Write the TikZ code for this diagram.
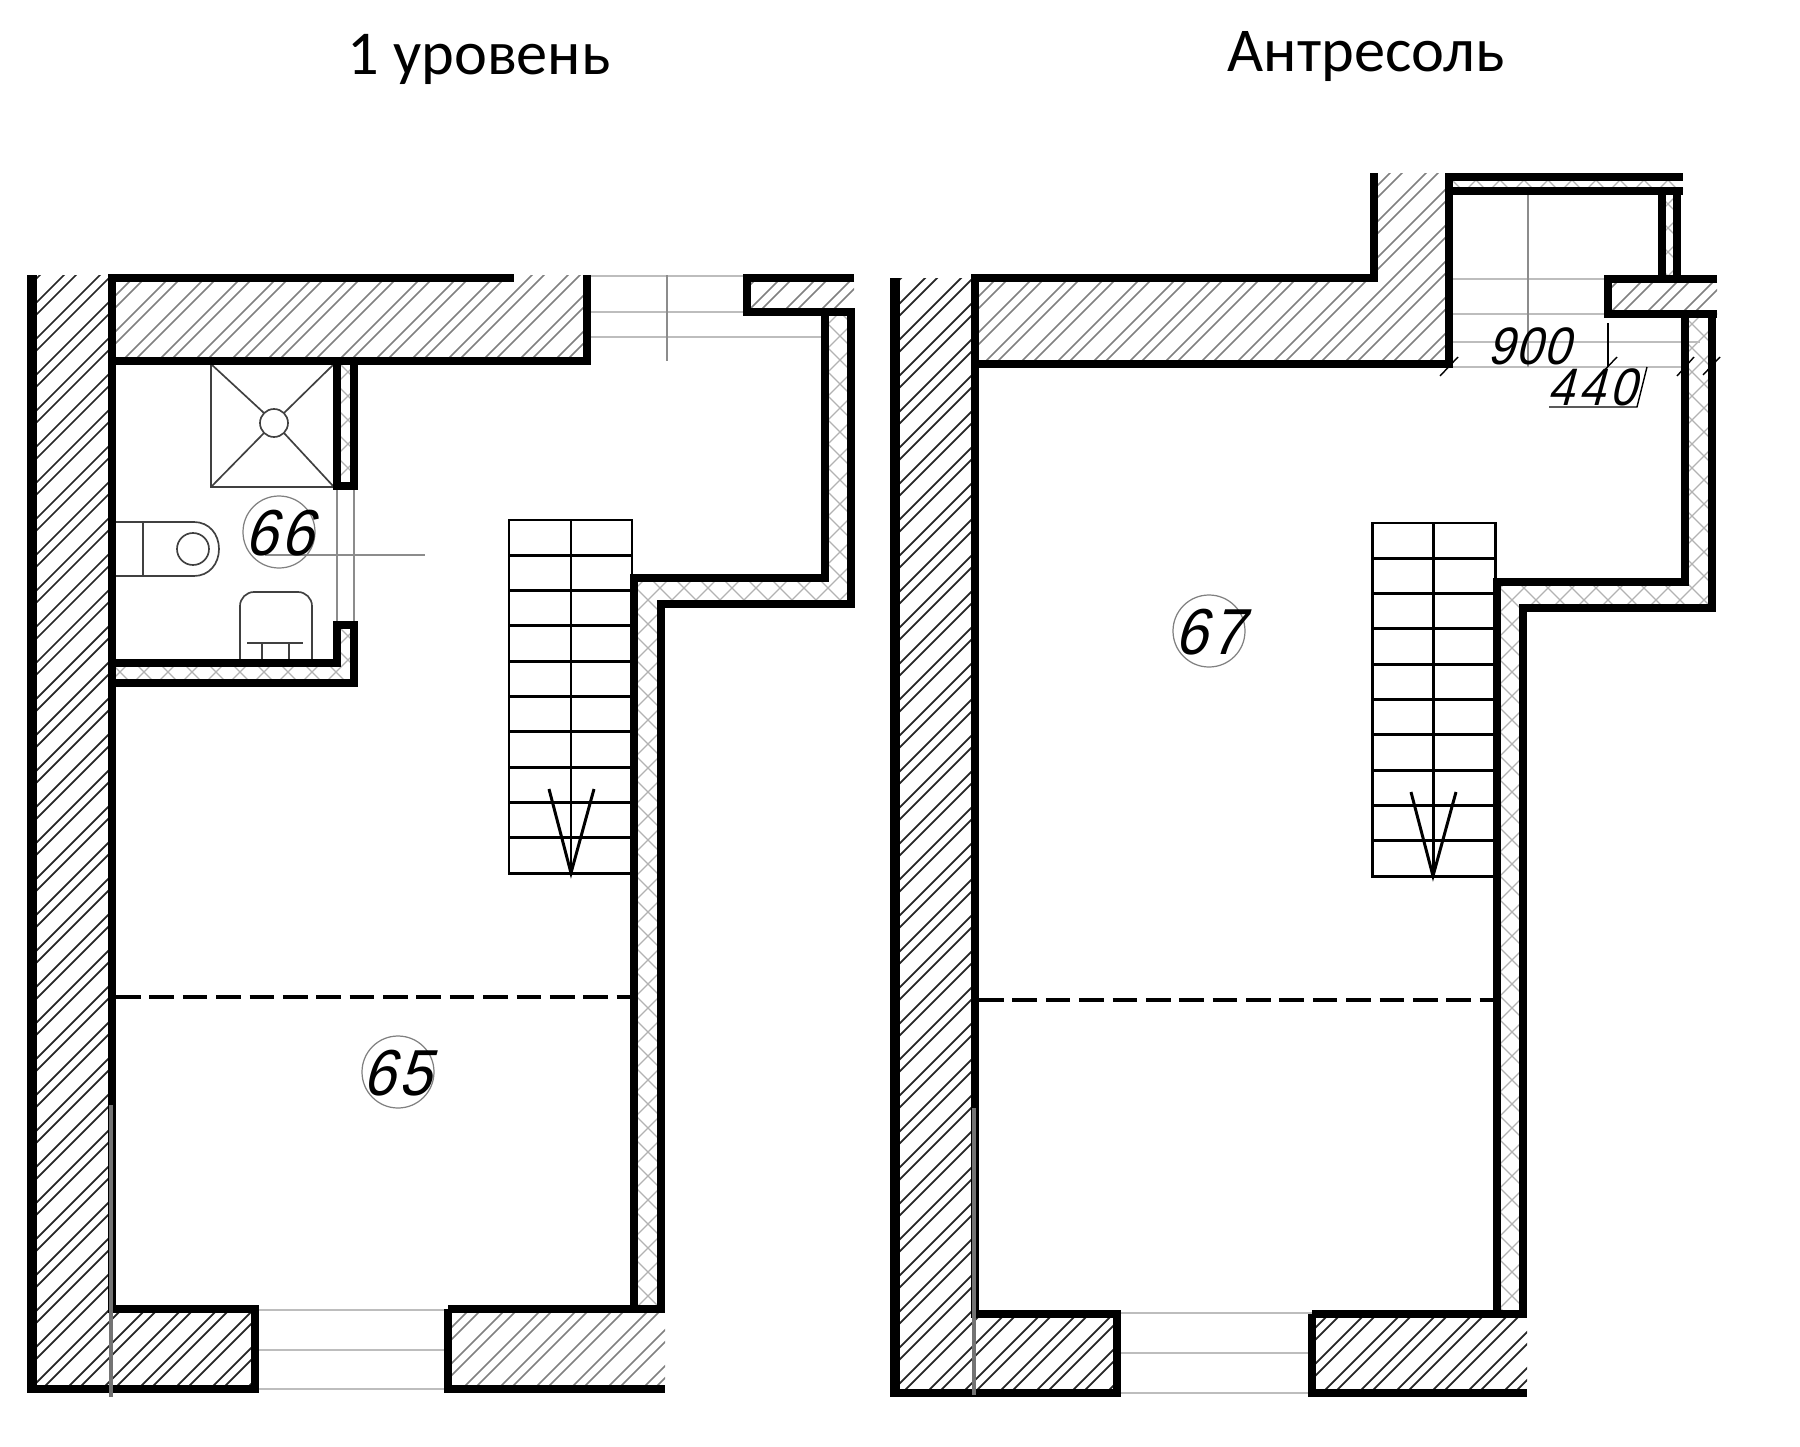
\documentclass[tikz,border=0pt]{standalone}
\usepackage{fontspec}
\setmainfont{Carlito}
\newfontfamily\digitfont[FakeSlant=0.27,FakeStretch=0.9]{Liberation Sans}
\definecolor{hatchgray}{gray}{0.5}
\definecolor{crossgray}{gray}{0.7}
\definecolor{doorgray}{gray}{0.74}
\definecolor{gridgray}{gray}{0.55}
\tikzset{
  wall/.style={line width=4.9pt,black},
  widewall/.style={line width=5.8pt,black},
  hatchdark/.style={line width=1pt,black!85},
  hatchpale/.style={line width=0.85pt,hatchgray},
  crossline/.style={line width=0.75pt,crossgray},
  doorline/.style={line width=1.1pt,doorgray},
  gridline/.style={line width=0.8pt,gridgray},
  stairline/.style={line width=1.7pt,black},
  fixture/.style={line width=0.95pt,black!75},
  dimline/.style={line width=0.8pt,black},
  joint/.style={line width=2.1pt,black!55},
  ringline/.style={line width=0.7pt,gray},
  cutline/.style={line width=1.9pt,black,dash pattern=on 14pt off 5pt},
  roomtitle/.style={font=\fontsize{35.5}{35.5}\selectfont,inner sep=0pt},
  roomno/.style={font=\digitfont\fontsize{37}{37}\selectfont\addfontfeature{LetterSpace=6},inner sep=0pt},
  dimno/.style={font=\digitfont\fontsize{30}{30}\selectfont\addfontfeature{LetterSpace=3},inner sep=0pt},
}
\newcommand{\hatcharea}[2]{%
  \begin{scope}
    \clip #1;
    \foreach \c in {15,51,...,3400}{
      \draw[#2] (\c,0) -- (0,\c);
      \draw[#2] (\c+12,0) -- (0,\c+12);
    }
  \end{scope}
}
\newcommand{\crossarea}[1]{%
  \begin{scope}
    \clip #1;
    \foreach \c in {0,24,...,3400}{
      \draw[crossline] (\c,0) -- (0,\c);
    }
    \foreach \c in {-1488,-1464,...,1900}{
      \draw[crossline] (\c,0) -- (\c+1500,1500);
    }
  \end{scope}
}
\begin{document}
\begin{tikzpicture}[x=0.02cm,y=-0.02cm]
  \useasboundingbox (0,0) rectangle (1800,1447);

  \node[roomtitle] (title1) at (479,59) {1 уровень};
  \node[roomtitle] (title2) at (1366,57) {Антресоль};

  \hatcharea{(32,275) rectangle (112,1389)}{hatchdark}
  \hatcharea{(112,275) rectangle (587,361)}{hatchpale}
  \hatcharea{(112,1309) rectangle (255,1389)}{hatchdark}
  \hatcharea{(448,1309) rectangle (665,1389)}{hatchpale}
  \hatcharea{(747,278) rectangle (854,312)}{hatchpale}
  \crossarea{(634,1309) -- (634,578) -- (825,578) -- (825,312) -- (851,312) -- (851,604) -- (661,604) -- (661,1309) -- cycle}
  \crossarea{(337,361) rectangle (354,486)}
  \crossarea{(112,663) -- (337,663) -- (337,625) -- (354,625) -- (354,683) -- (112,683) -- cycle}

  \draw[doorline] (590,276) -- (747,276);
  \draw[doorline] (590,312) -- (747,312);
  \draw[doorline] (590,337) -- (825,337);
  \draw[gridline] (667,275) -- (667,361);
  \draw[doorline] (255,1310) -- (448,1310);
  \draw[doorline] (255,1350) -- (448,1350);
  \draw[doorline] (255,1389) -- (448,1389);
  \draw[gridline] (337,486) -- (337,625);
  \draw[gridline] (354,486) -- (354,625);
  \draw[gridline] (265,555) -- (425,555);

  \draw[fixture] (211,364) rectangle (334,487);
  \draw[fixture] (211,364) -- (264,413);
  \draw[fixture] (334,364) -- (284,413);
  \draw[fixture] (211,487) -- (264,433);
  \draw[fixture] (334,487) -- (284,433);
  \draw[fixture] (274,423) circle [radius=14];
  \draw[fixture] (116,522) -- (194,522) .. controls (209,522) and (219,534) .. (219,549) .. controls (219,564) and (209,576) .. (194,576) -- (116,576);
  \draw[fixture] (143,522) -- (143,576);
  \draw[fixture] (193,549) circle [radius=16];
  \draw[fixture,rounded corners=8pt] (240,660) -- (240,592) -- (312,592) -- (312,660);
  \draw[fixture] (247,643) -- (303,643);
  \draw[fixture] (262,643) -- (262,660);
  \draw[fixture] (289,643) -- (289,660);

  \draw[widewall] (32,275) -- (32,1389);
  \draw[wall] (112,275) -- (112,1309);
  \draw[wall] (108,278) -- (514,278);
  \draw[wall] (587,275) -- (587,361) -- (108,361);
  \draw[wall] (27,1389) -- (255,1389) -- (255,1309) -- (108,1309);
  \draw[wall] (448,1309) -- (448,1389) -- (665,1389);
  \draw[wall] (448,1309) -- (665,1309);
  \draw[wall] (634,1309) -- (634,578) -- (825,578) -- (825,312);
  \draw[wall] (661,1309) -- (661,604) -- (851,604) -- (851,308);
  \draw[wall] (854,278) -- (747,278) -- (747,312) -- (854,312);
  \draw[wall] (337,361) -- (337,486) -- (354,486) -- (354,361);
  \draw[wall] (112,663) -- (337,663) -- (337,625) -- (354,625) -- (354,683) -- (112,683);
  \draw[joint] (111,1105) -- (111,1397);

  \draw[stairline] (509,520) rectangle (632,873);
  \draw[stairline] (571,520) -- (571,873);
  \foreach \i in {1,...,9}{
    \draw[stairline] (509,520+35.3*\i) -- (632,520+35.3*\i);
  }
  \draw[stairline] (549,789) -- (571,873) -- (594,789);
  \draw[cutline] (116,997) -- (630,997);

  \draw[ringline] (279,532) circle [radius=36];
  \node[roomno] (room66) at (279,533) {66};
  \draw[ringline] (398,1072) circle [radius=36];
  \node[roomno] (room65) at (397,1073) {65};

  \hatcharea{(895,278) rectangle (975,1393)}{hatchdark}
  \hatcharea{(975,278) -- (1374,278) -- (1374,173) -- (1449,173) -- (1449,364) -- (975,364) -- cycle}{hatchpale}
  \hatcharea{(975,1314) rectangle (1117,1393)}{hatchdark}
  \hatcharea{(1312,1314) rectangle (1527,1393)}{hatchdark}
  \hatcharea{(1608,279) rectangle (1717,314)}{hatchpale}
  \crossarea{(1497,1314) -- (1497,582) -- (1685,582) -- (1685,314) -- (1712,314) -- (1712,608) -- (1523,608) -- (1523,1314) -- cycle}
  \crossarea{(1449,177) rectangle (1683,191)}
  \crossarea{(1662,191) rectangle (1677,279)}

  \draw[doorline] (1117,1313) -- (1312,1313);
  \draw[doorline] (1117,1353) -- (1312,1353);
  \draw[doorline] (1117,1393) -- (1312,1393);
  \draw[doorline] (1449,279) -- (1608,279);
  \draw[doorline] (1449,314) -- (1608,314);
  \draw[doorline] (1449,342) -- (1700,342);
  \draw[doorline] (1449,367) -- (1685,367);
  \draw[gridline] (1528,191) -- (1528,367);

  \draw[widewall] (895,278) -- (895,1393);
  \draw[wall] (975,275) -- (975,1314);
  \draw[wall] (971,278) -- (1374,278) -- (1374,173);
  \draw[wall] (1449,173) -- (1449,364) -- (971,364);
  \draw[wall] (1445,177) -- (1683,177);
  \draw[wall] (1449,191) -- (1683,191);
  \draw[wall] (1662,191) -- (1662,279);
  \draw[wall] (1677,191) -- (1677,279);
  \draw[wall] (1717,279) -- (1608,279) -- (1608,314) -- (1717,314);
  \draw[wall] (1497,1314) -- (1497,582) -- (1685,582) -- (1685,314);
  \draw[wall] (1523,1314) -- (1523,608) -- (1712,608) -- (1712,312);
  \draw[wall] (890,1393) -- (1117,1393) -- (1117,1314) -- (971,1314);
  \draw[wall] (1312,1314) -- (1312,1393) -- (1527,1393);
  \draw[wall] (1312,1314) -- (1527,1314);
  \draw[joint] (974,1108) -- (974,1395);

  \draw[stairline] (1372,523) rectangle (1495,876);
  \draw[stairline] (1433,523) -- (1433,876);
  \foreach \i in {1,...,9}{
    \draw[stairline] (1372,523+35.3*\i) -- (1495,523+35.3*\i);
  }
  \draw[stairline] (1411,792) -- (1433,876) -- (1456,792);
  \draw[cutline] (979,1000) -- (1493,1000);

  \draw[ringline] (1209,631) circle [radius=36];
  \node[roomno] (room67) at (1209,632) {67};

  \draw[dimline] (1440,376) -- (1458,357);
  \draw[dimline] (1598,377) -- (1617,357);
  \draw[dimline] (1677,376) -- (1694,357);
  \draw[dimline] (1703,375) -- (1720,357);
  \draw[dimline] (1608,323) -- (1608,367);
  \draw[dimline] (1549,407) -- (1637,407) -- (1647,367);
  \node[dimno] (dim900) at (1529,346) {900};
  \node[dimno,font=\digitfont\fontsize{30}{30}\selectfont\addfontfeature{LetterSpace=9}] (dim440) at (1592,387) {440};
\end{tikzpicture}
\end{document}
